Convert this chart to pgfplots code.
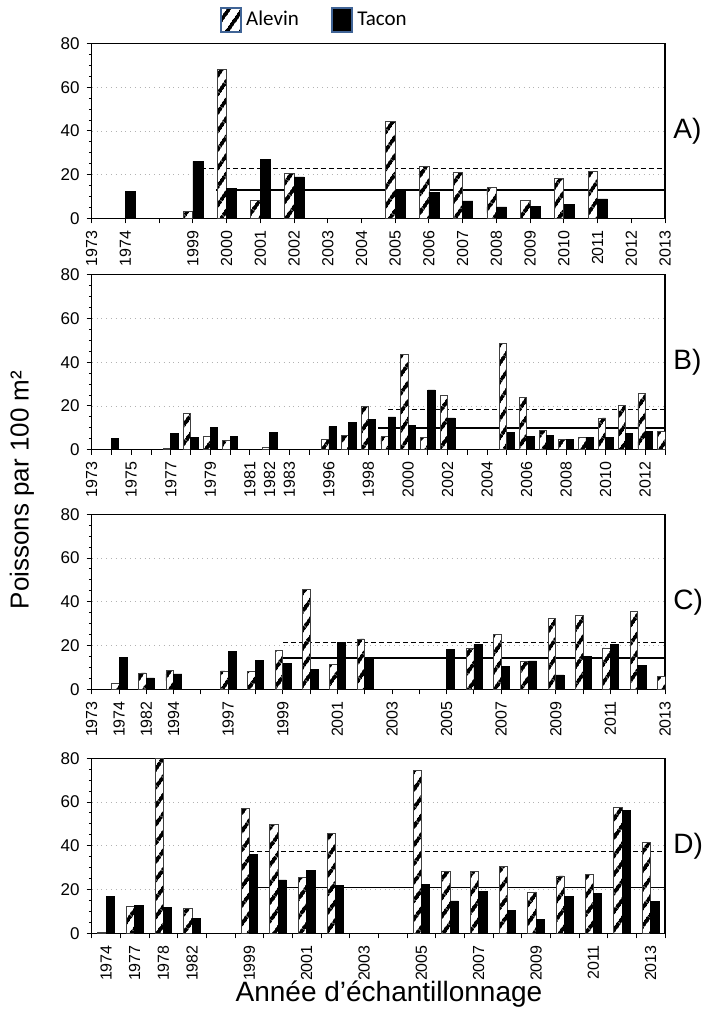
\documentclass[border=0pt]{standalone}
\usepackage{fontspec}
\setmainfont{Liberation Sans}
\newfontfamily\calib{Carlito}
\usepackage{pgfplots}
\pgfplotsset{compat=1.18}
\usetikzlibrary{patterns.meta}
\definecolor{lgblue}{RGB}{64,100,150}

\tikzset{hatch/.style={pattern={Lines[angle=55,distance=5.4pt,line width=1.9pt]}, pattern color=black}}

\pgfplotsset{
  panel/.style={
    scale only axis, width=286.65pt, height=87.5pt,
    anchor=north west,
    ymin=0, ymax=80, ytick={0,20,...,80}, minor y tick num=3,
    ymajorgrids, major grid style={dotted, gray!60, line width=0.4pt},
    tick align=outside, major tick length=2.5pt, minor tick length=1.4pt,
    tick style={black, line width=0.5pt},
    axis line style={line width=0.6pt},
    xtick pos=left, ytick pos=left,
    y tick label style={font=\fontsize{8.5}{9}\selectfont, /pgf/number format/assume math mode=true},
    x tick label style={font=\fontsize{8}{9}\selectfont, rotate=90, anchor=east},
  },
  alevin/.style 2 args={ybar, bar width=#1, bar shift=#2, draw=black!75, line width=0.4pt,
    preaction={fill=white}, hatch,
    legend image code/.code={\draw[preaction={fill=white}, hatch, draw=lgblue, line width=1.2pt] (0pt,-6pt) rectangle (10pt,6pt);
      \coordinate (gapA) at (16pt,0pt);}},
  tacon/.style 2 args={ybar, bar width=#1, bar shift=#2, draw=black, fill=black, line width=0.3pt,
    legend image code/.code={\draw[fill=black, draw=lgblue, line width=1.2pt] (0pt,-6pt) rectangle (10pt,6pt);
      \coordinate (gapT) at (14pt,0pt);}},
  moy/.style={black, line width=0.65pt, forget plot},
  moyd/.style={black, line width=0.65pt, dash pattern=on 2.5pt off 1.5pt, forget plot},
}

\begin{document}
\begin{tikzpicture}
\path[use as bounding box] (0,0) rectangle (354.5pt,-507.5pt);

% A)
\begin{axis}[panel, name=pa, at={(45.85pt,-21.75pt)},
  xmin=0, xmax=17, xtick={0,...,17},
  xticklabels={1973,1974,,1999,2000,2001,2002,2003,2004,2005,2006,2007,2008,2009,2010,2011,2012,2013},
  legend style={at={(0.39,1.134)}, anchor=center, draw=none, fill=none,
    font=\calib\fontsize{10.5}{12}\selectfont, legend columns=2,
    /tikz/every even column/.append style={column sep=14pt}},
]
\addplot[moyd] coordinates {(3,22.9)(17,22.9)};
\addplot[moy] coordinates {(3.7,13.0)(17,13.0)};
\addplot[alevin={0.28}{-0.14}] coordinates {
  (3,3.2)(4,68.1)(5,8.2)(6,20.4)(9,44.3)(10,23.8)(11,21.2)(12,14.2)(13,8.2)(14,18.2)(15,21.6)};
\addlegendentry{Alevin}
\addplot[tacon={0.3}{0.15}] coordinates {
  (1,12.5)(3,26.1)(4,13.7)(5,26.9)(6,19.0)(9,12.7)(10,12.0)(11,8.0)(12,5.3)(13,5.7)(14,6.6)(15,9.0)};
\addlegendentry{Tacon}
\end{axis}

% B)
\begin{axis}[panel, name=pb, at={(45.85pt,-137.35pt)},
  xmin=0, xmax=29, xtick={0,...,29},
  xticklabels={1973,,1975,,1977,,1979,,1981,1982,1983,,1996,,1998,,2000,,2002,,2004,,2006,,2008,,2010,,2012,},
]
\addplot[moyd] coordinates {(15,18.3)(29,18.3)};
\addplot[moy] coordinates {(14.5,9.9)(29,9.9)};
\addplot[alevin={0.37}{-0.185}] coordinates {
  (4,0.5)(5,16.7)(6,6.2)(7,4.4)(9,1.1)(12,4.5)(13,6.7)(14,19.7)(15,6.0)(16,43.4)(17,5.5)(18,24.6)
  (21,48.5)(22,23.7)(23,8.9)(24,4.7)(25,5.8)(26,14.5)(27,20.2)(28,25.8)(29,8.2)};
\addplot[tacon={0.37}{0.185}] coordinates {
  (1,5.3)(4,7.4)(5,5.8)(6,10.2)(7,5.9)(9,7.9)(12,10.6)(13,12.6)(14,13.8)(15,15.0)(16,11.0)(17,27.3)(18,14.5)
  (21,7.8)(22,6.1)(23,6.4)(24,4.6)(25,5.5)(26,5.5)(27,7.6)(28,8.4)};
\end{axis}

% C)
\begin{axis}[panel, name=pc, at={(45.85pt,-257.15pt)},
  xmin=0, xmax=21, xtick={0,...,21},
  xticklabels={1973,1974,1982,1994,,1997,,1999,,2001,,2003,,2005,,2007,,2009,,2011,,2013},
]
\addplot[moyd] coordinates {(7,21.3)(21,21.3)};
\addplot[moy] coordinates {(7,14.25)(21,14.25)};
\addplot[alevin={0.28}{-0.14}] coordinates {
  (1,2.6)(2,7.5)(3,8.6)(5,8.4)(6,8.1)(7,17.9)(8,45.5)(9,11.5)(10,23.0)
  (14,18.7)(15,25.1)(16,12.6)(17,32.5)(18,34.0)(19,18.9)(20,35.4)(21,5.8)};
\addplot[tacon={0.3}{0.15}] coordinates {
  (1,14.6)(2,5.2)(3,7.0)(5,17.3)(6,13.3)(7,11.8)(8,9.0)(9,21.3)(10,14.3)
  (13,18.2)(14,20.4)(15,10.4)(16,13.0)(17,6.6)(18,15.2)(19,20.7)(20,10.9)};
\end{axis}

% D)
\begin{axis}[panel, name=pd, at={(45.85pt,-379.15pt)},
  xmin=0, xmax=20, xtick={0,...,20}, xticklabels={},
  extra x ticks={0.5,1.5,2.5,3.5,5.5,7.5,9.5,11.5,13.5,15.5,17.5,19.5},
  extra x tick labels={1974,1977,1978,1982,1999,2001,2003,2005,2007,2009,2011,2013},
  extra x tick style={xtick style={draw=none}},
]
\addplot[moyd] coordinates {(5.5,37.3)(20,37.3)};
\addplot[moy] coordinates {(5.5,21.0)(20,21.0)};
\addplot[alevin={0.29}{-0.145}] coordinates {
  (0.5,0.3)(1.5,12.4)(2.5,80)(3.5,11.2)(5.5,57.2)(6.5,49.6)(7.5,25.6)(8.5,45.7)
  (11.5,74.3)(12.5,28.3)(13.5,28.3)(14.5,30.6)(15.5,18.9)(16.5,26.2)(17.5,27.0)(18.5,57.7)(19.5,41.6)};
\addplot[tacon={0.29}{0.145}] coordinates {
  (0.5,16.7)(1.5,12.9)(2.5,11.7)(3.5,6.7)(5.5,36.2)(6.5,24.4)(7.5,28.8)(8.5,21.8)
  (11.5,22.2)(12.5,14.8)(13.5,19.2)(14.5,10.6)(15.5,6.4)(16.5,16.8)(17.5,18.3)(18.5,56.2)(19.5,14.5)};
\end{axis}

\foreach \p/\t in {pa/A), pb/B), pc/C), pd/D)}
  \node[anchor=west, inner sep=0pt, font=\fontsize{14}{16}\selectfont] at ([xshift=4pt]\p.east) {\t};

\node[rotate=90, font=\fontsize{13}{15}\selectfont] at (11pt,-245pt) {Poissons par 100 m²};
\node[font=\fontsize{14}{16}\selectfont] at (194.5pt,-497pt) {Année d’échantillonnage};
\end{tikzpicture}
\end{document}
